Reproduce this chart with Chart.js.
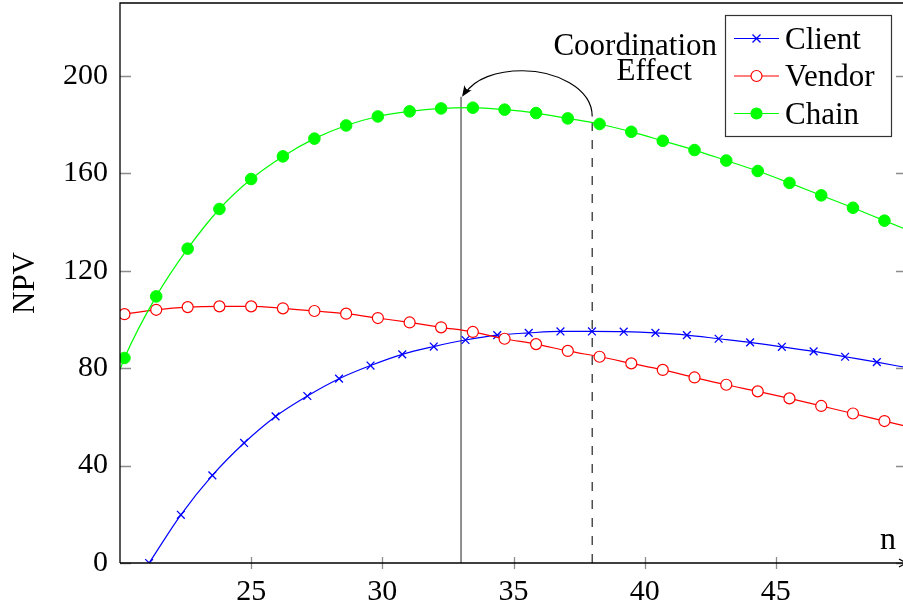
<!DOCTYPE html>
<html>
<head>
<meta charset="utf-8">
<script src="https://cdn.jsdelivr.net/npm/chart.js@4/dist/chart.umd.min.js"></script>
<style>
  html, body { margin: 0; padding: 0; background: #ffffff; overflow: hidden; }
  #c { display: block; }
</style>
</head>
<body>
<canvas id="c" width="908" height="609"></canvas>
<script>
// ---- data ----
const nClient = [21.11, 22.32, 23.52, 24.73, 25.93, 27.14, 28.35, 29.55, 30.76, 31.96, 33.17, 34.38, 35.58, 36.79, 37.99, 39.20, 40.41, 41.61, 42.82, 44.02, 45.23, 46.44, 47.64, 48.85, 50.05];
const client  = [0, 19.8, 36.0, 49.3, 60.2, 68.6, 75.7, 81.1, 85.7, 88.9, 91.6, 93.6, 94.5, 95.1, 95.1, 95.0, 94.5, 93.6, 92.1, 90.6, 88.8, 86.9, 84.7, 82.5, 80.1];

// first entry is where the curves meet the left edge of the plot (no marker there)
const nShared = [20.00, 20.17, 21.38, 22.58, 23.79, 25.00, 26.21, 27.41, 28.62, 29.83, 31.04, 32.24, 33.45, 34.66, 35.86, 37.07, 38.28, 39.49, 40.69, 41.90, 43.11, 44.31, 45.52, 46.73, 47.94, 49.14, 50.35];
const vendor  = [101.8, 102.2, 104.0, 105.1, 105.4, 105.4, 104.6, 103.5, 102.4, 100.6, 98.8, 96.8, 94.9, 92.1, 89.9, 87.1, 84.7, 82.0, 79.3, 76.2, 73.2, 70.5, 67.6, 64.5, 61.4, 58.3, 55.2];
const chain   = [79.4, 84.2, 109.5, 129.1, 145.4, 157.7, 167.0, 174.3, 179.7, 183.4, 185.5, 186.7, 187.0, 186.2, 184.8, 182.6, 180.3, 177.1, 173.4, 169.6, 165.3, 161.0, 156.1, 151.0, 145.9, 140.6, 135.3];

const xTicks = [25, 30, 35, 40, 45];
const yTicks = [0, 40, 80, 120, 160, 200];

// reference lines: coordinated optimum (solid) and uncoordinated optimum (dashed)
const optimumN   = [33, 38];
const optimumTop = [191.5, 183.4];
const annotationLines = ['Coordination', 'Effect'];

const FONT = "'Liberation Serif', 'Times New Roman', serif";

const edgeRadius = r => (c => (c.dataIndex === 0 ? 0 : r));

const annot = {
  id: 'annot',
  beforeDatasetsDraw(chart) {
    const { ctx, scales: { x, y } } = chart;
    ctx.save();
    const y0 = y.getPixelForValue(0);
    // solid line
    let px = x.getPixelForValue(optimumN[0]);
    ctx.strokeStyle = '#555555';
    ctx.lineWidth = 1.3;
    ctx.beginPath();
    ctx.moveTo(px, y0);
    ctx.lineTo(px, y.getPixelForValue(optimumTop[0]));
    ctx.stroke();
    // dashed line
    px = x.getPixelForValue(optimumN[1]);
    ctx.strokeStyle = '#222222';
    ctx.lineWidth = 1.2;
    ctx.setLineDash([9, 9]);
    ctx.beginPath();
    ctx.moveTo(px, y0);
    ctx.lineTo(px, y.getPixelForValue(optimumTop[1]));
    ctx.stroke();
    ctx.restore();
  },
  afterDraw(chart) {
    const { ctx, chartArea: a, scales: { x, y } } = chart;
    ctx.save();
    // tick marks
    ctx.strokeStyle = '#8c8c8c';
    ctx.lineWidth = 1.3;
    yTicks.forEach(v => {
      const py = Math.round(y.getPixelForValue(v)) + 0.5;
      ctx.beginPath();
      ctx.moveTo(a.left, py); ctx.lineTo(a.left + 11, py);
      ctx.moveTo(a.right - 11, py); ctx.lineTo(a.right, py);
      ctx.stroke();
    });
    xTicks.forEach(v => {
      const px = Math.round(x.getPixelForValue(v)) + 0.5;
      ctx.beginPath();
      ctx.moveTo(px, a.bottom - 6); ctx.lineTo(px, a.bottom + 6);
      ctx.stroke();
    });
    // axis lines
    ctx.strokeStyle = '#000000';
    ctx.lineWidth = 1.3;
    ctx.beginPath();
    ctx.moveTo(a.left, a.bottom); ctx.lineTo(a.left, a.top);
    ctx.lineTo(a.right, a.top);
    ctx.stroke();
    ctx.beginPath();
    ctx.moveTo(a.left, a.bottom); ctx.lineTo(a.right, a.bottom);
    ctx.stroke();
    // x-axis arrow head
    ctx.beginPath();
    ctx.moveTo(a.right - 8, a.bottom - 4);
    ctx.quadraticCurveTo(a.right - 3, a.bottom - 1, a.right, a.bottom);
    ctx.quadraticCurveTo(a.right - 3, a.bottom + 1, a.right - 8, a.bottom + 4);
    ctx.stroke();
    // axis label n
    ctx.fillStyle = '#000000';
    ctx.font = '32px ' + FONT;
    ctx.textAlign = 'center';
    ctx.textBaseline = 'alphabetic';
    ctx.fillText('n', a.right - 19, a.bottom - 14);

    // curved arrow between the two optima
    const x0 = x.getPixelForValue(optimumN[1]), y0 = y.getPixelForValue(optimumTop[1]);
    const x3 = x.getPixelForValue(optimumN[0]) + 1, y3 = y.getPixelForValue(optimumTop[0]);
    const pkx = (x0 + x3) / 2 - 4.5, pky = y3 - 26;
    ctx.strokeStyle = '#000000';
    ctx.lineWidth = 1.2;
    ctx.beginPath();
    ctx.moveTo(x0, y0);
    ctx.bezierCurveTo(x0, y0 - 29, pkx + 32, pky, pkx, pky);
    ctx.bezierCurveTo(pkx - 26, pky, x3 + 12, y3 - 18, x3 + 3, y3 - 3);
    ctx.stroke();
    let dx = 10, dy = 15;
    const len = Math.hypot(dx, dy); dx /= len; dy /= len;
    dx = -dx; // pointing down-left
    const hl = 11, hw = 4.5;
    const bx = x3 - dx * hl, by = y3 - dy * hl;
    ctx.fillStyle = '#000000';
    ctx.beginPath();
    ctx.moveTo(x3, y3);
    ctx.lineTo(bx - dy * hw, by + dx * hw);
    ctx.quadraticCurveTo(x3 - dx * hl * 0.6, y3 - dy * hl * 0.6, bx + dy * hw, by - dx * hw);
    ctx.closePath();
    ctx.fill();

    // annotation text
    ctx.font = '31px ' + FONT;
    ctx.textAlign = 'center';
    ctx.fillText(annotationLines[0], x0 + 43, a.top + 52);
    ctx.fillText(annotationLines[1], x0 + 62, a.top + 77);

    // legend
    const lx = a.right - 182, ly = a.top + 12, lw = 166, lh = 121;
    ctx.fillStyle = '#ffffff';
    ctx.fillRect(lx, ly, lw, lh);
    ctx.strokeStyle = '#333333';
    ctx.lineWidth = 1.2;
    ctx.strokeRect(lx + 0.5, ly + 0.5, lw, lh);
    const legendOrder = [0, 1, 2];
    legendOrder.forEach((di, i) => {
      const ds = chart.data.datasets[di];
      const cy = ly + 23.5 + i * 37.5;
      const sx0 = lx + 9, sx1 = lx + 54, mx = (sx0 + sx1) / 2;
      ctx.strokeStyle = ds.borderColor;
      ctx.lineWidth = 1.2;
      ctx.beginPath(); ctx.moveTo(sx0, cy); ctx.lineTo(sx1, cy); ctx.stroke();
      if (ds.pointStyle === 'crossRot') {
        const r = 4;
        ctx.lineWidth = 1.3;
        ctx.beginPath();
        ctx.moveTo(mx - r, cy - r); ctx.lineTo(mx + r, cy + r);
        ctx.moveTo(mx - r, cy + r); ctx.lineTo(mx + r, cy - r);
        ctx.stroke();
      } else {
        ctx.beginPath();
        ctx.arc(mx, cy, 5.5, 0, Math.PI * 2);
        ctx.fillStyle = ds.pointBackgroundColor;
        ctx.fill();
        ctx.strokeStyle = ds.pointBorderColor;
        ctx.stroke();
      }
      ctx.fillStyle = '#000000';
      ctx.font = '31px ' + FONT;
      ctx.textAlign = 'left';
      ctx.textBaseline = 'alphabetic';
      ctx.fillText(ds.label, lx + 60, cy + 10);
    });
    ctx.restore();
  }
};

new Chart(document.getElementById('c').getContext('2d'), {
  type: 'line',
  data: {
    datasets: [
      {
        label: 'Client',
        data: nClient.map((n, i) => ({ x: n, y: client[i] })),
        borderColor: '#0000ff', backgroundColor: '#0000ff',
        borderWidth: 1.2, fill: false,
        pointStyle: 'crossRot', pointRadius: 5.5, pointBorderWidth: 1.3,
        pointBorderColor: '#0000ff', pointBackgroundColor: '#0000ff',
        cubicInterpolationMode: 'monotone', order: 2
      },
      {
        label: 'Vendor',
        data: nShared.map((n, i) => ({ x: n, y: vendor[i] })),
        borderColor: '#ff0000', backgroundColor: '#ff0000',
        borderWidth: 1.2, fill: false,
        pointStyle: 'circle', pointRadius: edgeRadius(5.5), pointBorderWidth: 1.2,
        pointBorderColor: '#ff0000', pointBackgroundColor: '#ffffff',
        cubicInterpolationMode: 'monotone', order: 1
      },
      {
        label: 'Chain',
        data: nShared.map((n, i) => ({ x: n, y: chain[i] })),
        borderColor: '#00ff00', backgroundColor: '#00ff00',
        borderWidth: 1.2, fill: false,
        pointStyle: 'circle', pointRadius: edgeRadius(5.8), pointBorderWidth: 1,
        pointBorderColor: '#00ff00', pointBackgroundColor: '#00ff00',
        cubicInterpolationMode: 'monotone', order: 0
      }
    ]
  },
  options: {
    responsive: false,
    animation: false,
    devicePixelRatio: 1,
    layout: { autoPadding: false, padding: { top: 3, right: 1, left: 0, bottom: 0 } },
    plugins: { legend: { display: false }, tooltip: { enabled: false } },
    scales: {
      x: {
        type: 'linear', min: 20, max: 50,
        grid: { display: false, drawTicks: false },
        border: { display: false },
        ticks: { font: { family: FONT, size: 30 }, color: '#000000', padding: 11, maxRotation: 0, autoSkip: false },
        afterBuildTicks: s => { s.ticks = xTicks.map(v => ({ value: v })); },
        afterFit: s => { s.height = 46; s.paddingLeft = 0; s.paddingRight = 0; }
      },
      y: {
        type: 'linear', min: 0, max: 230,
        grid: { display: false, drawTicks: false },
        border: { display: false },
        ticks: { font: { family: FONT, size: 30 }, color: '#000000', padding: 12 },
        title: { display: true, text: 'NPV', font: { family: FONT, size: 31 }, color: '#000000', padding: { top: 7, bottom: 0 } },
        afterBuildTicks: s => { s.ticks = yTicks.map(v => ({ value: v })); },
        afterFit: s => { s.width = 120; s.paddingTop = 0; s.paddingBottom = 0; }
      }
    }
  },
  plugins: [annot]
});
</script>
</body>
</html>
